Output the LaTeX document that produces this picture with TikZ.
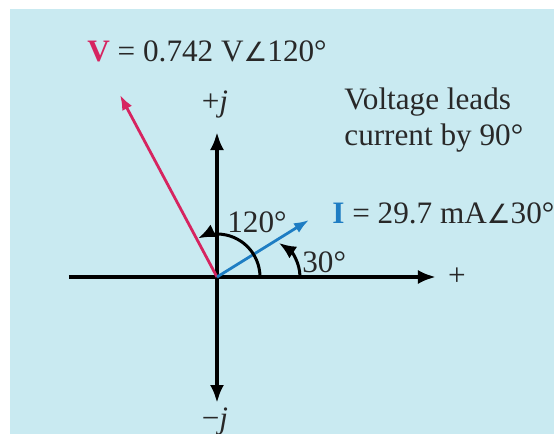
\documentclass[tikz,border=0pt]{standalone}
\usepackage{fontspec}
\setmainfont{Liberation Serif}
\newfontfamily\symfont[Scale=0.85]{DejaVu Sans}
\usetikzlibrary{arrows.meta}
\definecolor{bg}{RGB}{201,234,241}
\definecolor{vcol}{RGB}{214,36,96}
\definecolor{icol}{RGB}{30,125,195}
\definecolor{txt}{RGB}{40,40,40}
\begin{document}
\begin{tikzpicture}[x=0.5pt,y=-0.5pt,
  lbl/.style={inner sep=0pt, text=txt, font=\fontsize{15.6}{18}\selectfont},
  axistip/.style={line width=2pt, -{Latex[length=9pt,width=7pt]}},
  axisboth/.style={line width=2pt, {Latex[length=9pt,width=7pt]}-{Latex[length=9pt,width=7pt]}},
  vec/.style={line width=1.4pt, -{Latex[length=7.5pt,width=5.5pt]}},
  anglearc/.style={line width=1.5pt, -{Latex[length=8.5pt,width=7pt]}}]
\fill[white] (0,0) rectangle (554,434);
\fill[bg] (10,9) rectangle (554,434);
\useasboundingbox (0,0) rectangle (554,434);
% axes
\coordinate (O) at (217,277);
\coordinate (L) at (69,277);
\coordinate (R) at (436,277);
\coordinate (T) at (217,132);
\coordinate (B) at (217,403);
\draw[axistip] (L) -- (R);
\draw[axisboth] (B) -- (T);
\node[lbl, anchor=center] (plus) at (457,277) {+};
\node[lbl, anchor=center] (pj) at (215,104) {+\textit{j}};
\node[lbl, anchor=center] (mj) at (215,421) {−\textit{j}};
% phasors
\coordinate (Vtip) at (120,95);
\coordinate (Itip) at (309,220);
\draw[vec, vcol] (O) -- (Vtip);
\draw[vec, icol] (O) -- (Itip);
% angle arcs
\draw[anglearc] (O) ++(43,0) arc[start angle=0, end angle=-116, radius=43];
\coordinate (a30s) at (300,277);
\coordinate (a30e) at (279,243);
\draw[anglearc] (a30s) .. controls (300,262) and (291,251) .. (a30e);
\node[lbl, anchor=base west] (l120) at (227,232) {120°};
\node[lbl, anchor=base west] (l30) at (302,272) {30°};
% labels
\node[lbl, anchor=base west] (vlabel) at (87,61) {\textcolor{vcol}{\textbf{V}} = 0.742 V{\symfont ∠}120°};
\node[lbl, anchor=base west] (ilabel) at (332,223) {\textcolor{icol}{\textbf{I}} = 29.7 mA{\symfont ∠}30°};
\node[lbl, anchor=north west, align=left] (note) at (344,87) {Voltage leads\\current by 90°};
\end{tikzpicture}
\end{document}
